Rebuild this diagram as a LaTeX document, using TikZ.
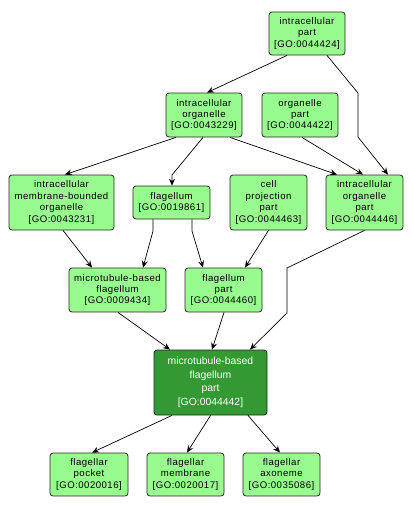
\documentclass[tikz,border=0pt]{standalone}
\usepackage{fontspec}
\setmainfont{Liberation Sans}
\usetikzlibrary{arrows.meta}
\definecolor{lightgo}{HTML}{98FB8E}
\definecolor{darkgo}{HTML}{339933}
\tikzset{
  goterm/.style={draw=black!85, line width=0.8pt, rounded corners=3pt, fill=lightgo, align=center,
    inner sep=0pt, font=\fontsize{9.6}{11.4}\selectfont\addfontfeature{LetterSpace=5}},
  goterm dark/.style={goterm, fill=darkgo, text=white, font=\fontsize{10.4}{13.6}\selectfont},
  rel/.style={draw=black, line width=0.7pt, -{Stealth[length=7pt,width=6pt,inset=2.5pt]}},
}
\begin{document}
\begin{tikzpicture}[x=1pt,y=1pt]
\useasboundingbox (0,0) rectangle (414,-509);
\node[goterm, minimum width=76pt, minimum height=43pt] (ip) at (307,-33.5) {intracellular\\part\\{[GO:0044424]}};
\node[goterm, minimum width=76pt, minimum height=44pt] (io) at (204,-115) {intracellular\\organelle\\{[GO:0043229]}};
\node[goterm, minimum width=76pt, minimum height=44pt] (op) at (300,-115) {organelle\\part\\{[GO:0044422]}};
\node[goterm, minimum width=105pt, minimum height=55pt] (imbo) at (61.5,-202.5) {intracellular\\membrane-bounded\\organelle\\{[GO:0043231]}};
\node[goterm, minimum width=77pt, minimum height=33pt] (fl) at (171.5,-202.5) {flagellum\\{[GO:0019861]}};
\node[goterm, minimum width=77pt, minimum height=55pt] (cpp) at (268.5,-202.5) {cell\\projection\\part\\{[GO:0044463]}};
\node[goterm, minimum width=77pt, minimum height=55pt] (iop) at (364.5,-202.5) {intracellular\\organelle\\part\\{[GO:0044446]}};
\node[goterm, minimum width=97pt, minimum height=44pt] (mtbf) at (117.5,-290) {microtubule-based\\flagellum\\{[GO:0009434]}};
\node[goterm, minimum width=77pt, minimum height=44pt] (flp) at (223.5,-290) {flagellum\\part\\{[GO:0044460]}};
\node[goterm dark, minimum width=113pt, minimum height=65pt] (mtbfp) at (210.5,-382.5) {microtubule-based\\flagellum\\part\\{[GO:0044442]}};
\node[goterm, minimum width=78pt, minimum height=43pt] (fpk) at (89,-474.5) {flagellar\\pocket\\{[GO:0020016]}};
\node[goterm, minimum width=77pt, minimum height=43pt] (fm) at (185.5,-474.5) {flagellar\\membrane\\{[GO:0020017]}};
\node[goterm, minimum width=77pt, minimum height=43pt] (fa) at (281.5,-474.5) {flagellar\\axoneme\\{[GO:0035086]}};
\coordinate (k1) at (358,-93);
\coordinate (k2) at (358,-137);
\coordinate (k3) at (172,-175);
\coordinate (k4) at (153,-231);
\coordinate (k5) at (192,-231);
\coordinate (k6) at (287,-268);
\coordinate (k7) at (287,-313);
\draw[rel] ([xshift=-20pt]ip.south) -- ([xshift=3pt]io.north);
\draw[rel] ([xshift=20pt]ip.south) -- (k1) -- (k2) -- ([xshift=23.5pt]iop.north);
\draw[rel] ([xshift=-28pt]io.south) -- ([xshift=3.5pt]imbo.north);
\draw[rel] ([xshift=-1pt]io.south) -- (k3) -- ([xshift=0.5pt]fl.north);
\draw[rel] ([xshift=26pt]io.south) -- ([xshift=-27.5pt]iop.north);
\draw[rel] ([xshift=2pt]op.south) -- ([xshift=-1.5pt]iop.north);
\draw[rel] ([xshift=1.5pt]imbo.south) -- ([xshift=-25.5pt]mtbf.north);
\draw[rel] ([xshift=-18.5pt]fl.south) -- (k4) -- ([xshift=25.5pt]mtbf.north);
\draw[rel] ([xshift=20.5pt]fl.south) -- (k5) -- ([xshift=-20.5pt]flp.north);
\draw[rel] (cpp.south) -- ([xshift=21.5pt]flp.north);
\draw[rel] (iop.south) -- (k6) -- (k7) -- ([xshift=39.5pt]mtbfp.north);
\draw[rel] ([xshift=0.5pt]mtbf.south) -- ([xshift=-40.5pt]mtbfp.north);
\draw[rel] ([xshift=0.5pt]flp.south) -- ([xshift=1.5pt]mtbfp.north);
\draw[rel] ([xshift=-38.5pt]mtbfp.south) -- ([xshift=3pt]fpk.north);
\draw[rel] (mtbfp.south) -- ([xshift=1.5pt]fm.north);
\draw[rel] ([xshift=37.5pt]mtbfp.south) -- ([xshift=-1.5pt]fa.north);
\end{tikzpicture}
\end{document}
